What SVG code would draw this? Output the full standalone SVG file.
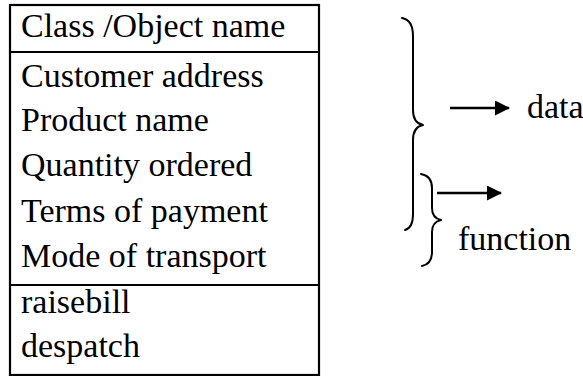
<svg xmlns="http://www.w3.org/2000/svg" width="583" height="376" viewBox="0 0 583 376">
  <style>
    .lbl { font-family: 'Liberation Serif', 'Times New Roman', 'DejaVu Serif', serif; font-size: 34px; fill: #000; }
    .frame { fill: none; stroke: #000; stroke-width: 2.2; }
    .brace { fill: none; stroke: #000; stroke-width: 2; stroke-linecap: round; stroke-linejoin: round; }
    .arrow { stroke: #000; stroke-width: 2.4; }
  </style>
  <defs>
    <marker id="head" viewBox="0 0 15 15" refX="14" refY="7.5" markerWidth="15" markerHeight="15" markerUnits="userSpaceOnUse" orient="auto">
      <path d="M0,0 L15,7.5 L0,15 Z" fill="#000"/>
    </marker>
  </defs>

  <!-- class box -->
  <g id="class-box" font-family="Liberation Serif, Times New Roman, serif">
    <rect class="frame" x="10" y="5" width="309" height="370"/>
    <line class="frame" x1="10" y1="52" x2="319" y2="52"/>
    <line class="frame" x1="10" y1="285" x2="319" y2="285"/>
    <text class="lbl" x="21" y="37">Class /Object name</text>
    <text class="lbl" x="21" y="87">Customer address</text>
    <text class="lbl" x="21" y="131">Product name</text>
    <text class="lbl" x="21" y="176">Quantity ordered</text>
    <text class="lbl" x="21" y="222">Terms of payment</text>
    <text class="lbl" x="21" y="267">Mode of transport</text>
    <text class="lbl" x="21" y="313">raisebill</text>
    <text class="lbl" x="21" y="357">despatch</text>
  </g>

  <!-- brace grouping the attributes -->
  <g id="data-brace">
    <path class="brace" d="M402,18 Q413,20 413,36 L413,110 Q413,123 423,125 Q413,127 413,140 L413,214 Q413,228 405,230"/>
  </g>

  <!-- brace grouping the operations -->
  <g id="function-brace">
    <path class="brace" d="M421,174 Q432,176 432,188 L432,208 Q432,218 441,220 Q432,222 432,232 L432,252 Q432,264 422,266"/>
  </g>

  <g id="data-label" font-family="Liberation Serif, Times New Roman, serif">
    <text class="lbl" x="527" y="118">data</text>
  </g>
  <g id="function-label" font-family="Liberation Serif, Times New Roman, serif">
    <text class="lbl" x="458" y="250">function</text>
  </g>

  <!-- connectors -->
  <g id="connectors">
    <line class="arrow" x1="450" y1="108" x2="509" y2="108" marker-end="url(#head)"/>
    <line class="arrow" x1="437" y1="193" x2="501" y2="193" marker-end="url(#head)"/>
  </g>
</svg>
